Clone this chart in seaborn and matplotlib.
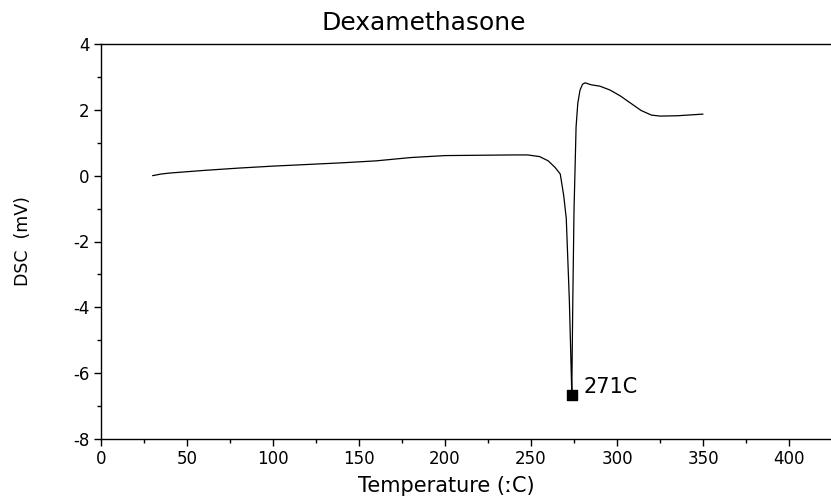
import matplotlib
matplotlib.use("Agg")
import matplotlib.pyplot as plt
import seaborn as sns
import pandas as pd
from matplotlib.ticker import MultipleLocator

temperature = [30, 35, 40, 50, 60, 80, 100, 120, 140, 160, 180, 200, 220, 240, 248,
               255, 260, 264, 267, 269, 270.5, 272.3, 273.2, 273.7, 274.3, 275, 275.7,
               276.2, 277.2, 278.5, 280, 281.5, 285, 290, 296, 302, 308, 314, 320,
               325, 335, 350]
dsc = [0.0, 0.05, 0.08, 0.12, 0.16, 0.23, 0.29, 0.34, 0.39, 0.45, 0.55, 0.61, 0.62,
       0.63, 0.63, 0.58, 0.45, 0.25, 0.05, -0.6, -1.3, -3.8, -5.6, -6.6, -3.8, -1.05,
       0.4, 1.48, 2.2, 2.6, 2.78, 2.82, 2.76, 2.72, 2.6, 2.42, 2.2, 1.98, 1.84, 1.81,
       1.82, 1.87]
peak_t = [273.7]
peak_v = [-6.65]
peak_label = "271C"

df = pd.DataFrame({"T": temperature, "DSC": dsc})

sns.set_style("ticks")
plt.rcParams['font.family'] = ['DejaVu Sans', 'Noto Sans', 'Liberation Sans']
plt.rcParams['axes.unicode_minus'] = False
plt.rcParams['text.color'] = 'black'
plt.rcParams['axes.labelcolor'] = 'black'
plt.rcParams['xtick.color'] = 'black'
plt.rcParams['ytick.color'] = 'black'

fig = plt.figure(figsize=(8.31, 5.0), dpi=100)
ax = fig.add_axes([0.1215, 0.122, 0.8785, 0.79])
sns.lineplot(data=df, x="T", y="DSC", sort=False, color="black", linewidth=0.9, ax=ax)
ax.scatter(peak_t, peak_v, marker="s", s=60, color="black", zorder=5)
ax.text(peak_t[0] + 7, peak_v[0] + 0.22, peak_label, fontsize=15, va="center", ha="left")

ax.set_xlim(0, 424.4)
ax.set_ylim(-8, 4)
ax.xaxis.set_major_locator(MultipleLocator(50))
ax.xaxis.set_minor_locator(MultipleLocator(25))
ax.yaxis.set_major_locator(MultipleLocator(2))
ax.yaxis.set_minor_locator(MultipleLocator(1))
ax.set_xticks(range(0, 401, 50))
ax.tick_params(which="major", direction="out", length=5, width=1, labelsize=12, pad=3)
ax.tick_params(which="minor", direction="out", length=3, width=1)
for s in ["left", "bottom", "top"]:
    ax.spines[s].set_visible(True)
    ax.spines[s].set_color("black")
    ax.spines[s].set_linewidth(1)
ax.spines["right"].set_visible(False)

ax.set_xlabel("Temperature (\u02D0C)", fontsize=15)
ax.xaxis.set_label_coords(0.473, -0.094)
ax.set_ylabel("DSC  (mV)", fontsize=12.5)
ax.yaxis.set_label_coords(-0.095, 0.5)
ax.set_title("Dexamethasone", fontsize=18, x=0.442, pad=10)

fig.savefig("out.png", dpi=100)
